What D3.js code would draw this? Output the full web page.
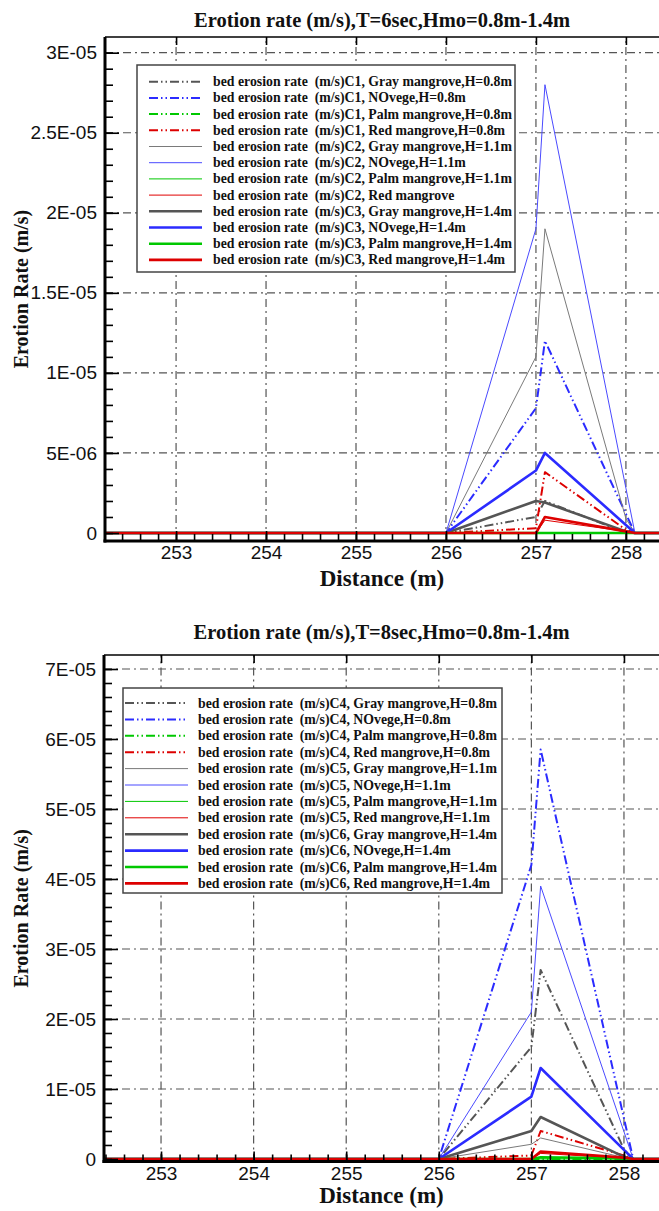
<!DOCTYPE html>
<html>
<head>
<meta charset="utf-8">
<script src="https://cdn.jsdelivr.net/npm/d3@7"></script>
<style>
body { margin: 0; background: #fff; }
text { white-space: pre; }
</style>
</head>
<body>
<svg id="chart" width="659" height="1211"></svg>
<script>
// x positions of the profile points (m)
var xPoints = [252, 256, 257, 257.1, 258, 258.1, 259];
var xTicks = [253, 254, 255, 256, 257, 258];

var vegColors = ['#555555', '#2b2bff', '#00c800', '#dd0000'];
var thinColors = ['#7a7a7a', '#4a4aff', '#00c800', '#e00000'];

// T = 6 sec panel
var namesT6 = [
    'bed erosion rate  (m/s)C1, Gray mangrove,H=0.8m',
    'bed erosion rate  (m/s)C1, NOvege,H=0.8m',
    'bed erosion rate  (m/s)C1, Palm mangrove,H=0.8m',
    'bed erosion rate  (m/s)C1, Red mangrove,H=0.8m',
    'bed erosion rate  (m/s)C2, Gray mangrove,H=1.1m',
    'bed erosion rate  (m/s)C2, NOvege,H=1.1m',
    'bed erosion rate  (m/s)C2, Palm mangrove,H=1.1m',
    'bed erosion rate  (m/s)C2, Red mangrove',
    'bed erosion rate  (m/s)C3, Gray mangrove,H=1.4m',
    'bed erosion rate  (m/s)C3, NOvege,H=1.4m',
    'bed erosion rate  (m/s)C3, Palm mangrove,H=1.4m',
    'bed erosion rate  (m/s)C3, Red mangrove,H=1.4m'
];
var valuesT6 = [
    [0, 0, 1.0e-6, 2.0e-6, 0, 0, 0],
    [0, 0, 7.8e-6, 1.2e-5, 1.2e-6, 0, 0],
    [0, 0, 0, 0, 0, 0, 0],
    [0, 0, 0.3e-6, 3.8e-6, 0.2e-6, 0, 0],
    [0, 0, 1.1e-5, 1.9e-5, 0.9e-6, 0, 0],
    [0, 0, 1.9e-5, 2.8e-5, 2.8e-6, 0, 0],
    [0, 0, 0, 0, 0, 0, 0],
    [0, 0, 0, 0.8e-6, 0.1e-6, 0, 0],
    [0, 0, 2.0e-6, 1.9e-6, 0.1e-6, 0, 0],
    [0, 0, 3.9e-6, 5.0e-6, 0.5e-6, 0, 0],
    [0, 0, 0, 0, 0, 0, 0],
    [0, 0, 0, 1.0e-6, 0.1e-6, 0, 0]
];
var yTicksT6 = [0, 5e-6, 1e-5, 1.5e-5, 2e-5, 2.5e-5, 3e-5];
var yLabelsT6 = ['0', '5E-06', '1E-05', '1.5E-05', '2E-05', '2.5E-05', '3E-05'];

// T = 8 sec panel
var namesT8 = [
    'bed erosion rate  (m/s)C4, Gray mangrove,H=0.8m',
    'bed erosion rate  (m/s)C4, NOvege,H=0.8m',
    'bed erosion rate  (m/s)C4, Palm mangrove,H=0.8m',
    'bed erosion rate  (m/s)C4, Red mangrove,H=0.8m',
    'bed erosion rate  (m/s)C5, Gray mangrove,H=1.1m',
    'bed erosion rate  (m/s)C5, NOvege,H=1.1m',
    'bed erosion rate  (m/s)C5, Palm mangrove,H=1.1m',
    'bed erosion rate  (m/s)C5, Red mangrove,H=1.1m',
    'bed erosion rate  (m/s)C6, Gray mangrove,H=1.4m',
    'bed erosion rate  (m/s)C6, NOvege,H=1.4m',
    'bed erosion rate  (m/s)C6, Palm mangrove,H=1.4m',
    'bed erosion rate  (m/s)C6, Red mangrove,H=1.4m'
];
var valuesT8 = [
    [0, 0, 1.6e-5, 2.7e-5, 1.4e-6, 0, 0],
    [0, 0, 4.2e-5, 5.85e-5, 5.8e-6, 0, 0],
    [0, 0, 0, 0, 0, 0, 0],
    [0, 0, 0.5e-6, 4.0e-6, 0.5e-6, 0, 0],
    [0, 0, 2.1e-6, 3.0e-6, 0.2e-6, 0, 0],
    [0, 0, 2.1e-5, 3.9e-5, 3.9e-6, 0, 0],
    [0, 0, 0, 0, 0, 0, 0],
    [0, 0, 0, 0.8e-6, 0.1e-6, 0, 0],
    [0, 0, 4.0e-6, 6.0e-6, 0.3e-6, 0, 0],
    [0, 0, 8.9e-6, 1.3e-5, 1.3e-6, 0, 0],
    [0, 0, 0, 0.25e-6, 0.1e-6, 0, 0],
    [0, 0, 0, 1.05e-6, 0.2e-6, 0, 0]
];
var yTicksT8 = [0, 1e-5, 2e-5, 3e-5, 4e-5, 5e-5, 6e-5, 7e-5];
var yLabelsT8 = ['0', '1E-05', '2E-05', '3E-05', '4E-05', '5E-05', '6E-05', '7E-05'];

var svg = d3.select('#chart');

function seriesStyle(i) {
    var group = Math.floor(i / 4), veg = i % 4;
    if (group === 0) return {color: vegColors[veg], width: 2, dash: '9,3,1.5,3,1.5,3'};
    if (group === 1) return {color: thinColors[veg], width: 1, dash: null};
    return {color: vegColors[veg], width: 2.6, dash: null};
}

function drawPanel(o) {
    var g = svg.append('g');
    var x = d3.scaleLinear().domain(o.xDomain).range([o.left, o.right]);
    var y = d3.scaleLinear().domain(o.yDomain).range([o.bottom, o.top]);

    var clipId = 'clip' + o.id;
    svg.append('clipPath').attr('id', clipId)
        .append('rect')
        .attr('x', o.left).attr('y', o.top)
        .attr('width', o.right - o.left).attr('height', o.bottom - o.top);

    // grid
    var grid = g.append('g')
        .attr('stroke', '#555')
        .attr('stroke-width', 1.2)
        .attr('stroke-dasharray', '8,4,2,4');
    grid.selectAll('line.gx').data(xTicks).enter().append('line')
        .attr('x1', function (d) { return x(d); })
        .attr('x2', function (d) { return x(d); })
        .attr('y1', o.bottom).attr('y2', o.top);
    grid.selectAll('line.gy').data(o.yTicks.slice(1)).enter().append('line')
        .attr('y1', function (d) { return y(d); })
        .attr('y2', function (d) { return y(d); })
        .attr('x1', o.left).attr('x2', o.right);

    // series
    var line = d3.line()
        .x(function (d) { return x(d[0]); })
        .y(function (d) { return y(d[1]); });

    var lines = g.append('g').attr('clip-path', 'url(#' + clipId + ')');
    o.values.forEach(function (vals, i) {
        var st = seriesStyle(i);
        lines.append('path')
            .datum(xPoints.map(function (xv, k) { return [xv, vals[k]]; }))
            .attr('fill', 'none')
            .attr('stroke', st.color)
            .attr('stroke-width', st.width)
            .attr('stroke-dasharray', st.dash)
            .attr('stroke-linejoin', 'round')
            .attr('d', line);
    });

    // minor ticks
    var xMinor = d3.range(252.4, 258.5, 0.2).filter(function (d) {
        return d > o.xDomain[0] && d < o.xDomain[1];
    });
    var yMinor = d3.range(0, o.yDomain[1], o.yMinorStep);

    var axX = g.append('g')
        .attr('transform', 'translate(0,' + o.bottom + ')')
        .call(d3.axisBottom(x).tickValues(xTicks).tickSize(-10).tickPadding(5)
            .tickFormat(d3.format('d')));
    var axXm = g.append('g')
        .attr('transform', 'translate(0,' + o.bottom + ')')
        .call(d3.axisBottom(x).tickValues(xMinor).tickSize(-7).tickFormat(''));
    var axY = g.append('g')
        .attr('transform', 'translate(' + o.left + ',0)')
        .call(d3.axisLeft(y).tickValues(o.yTicks).tickSize(-14).tickPadding(8)
            .tickFormat(function (d, i) { return o.yLabels[i]; }));
    var axYm = g.append('g')
        .attr('transform', 'translate(' + o.left + ',0)')
        .call(d3.axisLeft(y).tickValues(yMinor).tickSize(-8).tickFormat(''));
    var axTop = g.append('g')
        .attr('transform', 'translate(0,' + o.top + ')')
        .call(d3.axisTop(x).tickValues(xTicks).tickSize(-8).tickFormat(''));

    [axX, axXm, axY, axYm, axTop].forEach(function (a) {
        a.select('.domain').remove();
        a.selectAll('line').attr('stroke', '#000').attr('stroke-width', 1.6);
        a.selectAll('text')
            .attr('fill', '#111')
            .style('font-family', '"Liberation Sans", Arial, sans-serif')
            .style('font-size', '19px');
    });

    // frame
    g.append('line').attr('x1', o.left).attr('x2', o.right)
        .attr('y1', o.top).attr('y2', o.top)
        .attr('stroke', '#000').attr('stroke-width', 1.5);
    g.append('line').attr('x1', o.left - 1.5).attr('x2', o.right)
        .attr('y1', o.bottom).attr('y2', o.bottom)
        .attr('stroke', '#000').attr('stroke-width', 3);
    g.append('line').attr('x1', o.left).attr('x2', o.left)
        .attr('y1', o.top).attr('y2', o.bottom + 1.5)
        .attr('stroke', '#000').attr('stroke-width', 3);

    var serif = '"Liberation Serif", "Times New Roman", serif';
    var cx = (o.left + o.right) / 2 - 1;

    g.append('text')
        .attr('x', cx).attr('y', o.titleY)
        .attr('text-anchor', 'middle')
        .style('font-family', serif).style('font-weight', 'bold').style('font-size', '20.5px')
        .attr('fill', '#111')
        .text(o.title);

    g.append('text')
        .attr('x', cx).attr('y', o.xTitleY)
        .attr('text-anchor', 'middle')
        .style('font-family', serif).style('font-weight', 'bold').style('font-size', '23px')
        .attr('fill', '#111')
        .text('Distance (m)');

    g.append('text')
        .attr('transform', 'translate(' + o.yTitleX + ',' + ((o.top + o.bottom) / 2) + ') rotate(-90)')
        .attr('text-anchor', 'middle')
        .style('font-family', serif).style('font-weight', 'bold').style('font-size', '20px')
        .attr('fill', '#111')
        .text('Erotion Rate (m/s)');

    // legend
    var lg = g.append('g');
    lg.append('rect')
        .attr('x', o.legend.x).attr('y', o.legend.y)
        .attr('width', o.legend.w).attr('height', o.legend.h)
        .attr('fill', '#fff').attr('stroke', '#444').attr('stroke-width', 1.5);
    var rows = lg.selectAll('g.row').data(o.names).enter().append('g')
        .attr('transform', function (d, i) {
            return 'translate(0,' + (o.legend.row0 + i * o.legend.step) + ')';
        });
    rows.append('line')
        .attr('x1', o.legend.lx1).attr('x2', o.legend.lx2)
        .attr('y1', 0).attr('y2', 0)
        .each(function (d, i) {
            var st = seriesStyle(i);
            d3.select(this)
                .attr('stroke', st.color)
                .attr('stroke-width', st.width)
                .attr('stroke-dasharray', st.dash);
        });
    rows.append('text')
        .attr('x', o.legend.tx).attr('y', 0).attr('dy', '0.33em')
        .style('font-family', serif).style('font-weight', 'bold').style('font-size', '13.8px')
        .attr('fill', '#111')
        .text(function (d) { return d; });
}

drawPanel({
    id: 't6',
    left: 105, right: 661, top: 37, bottom: 541,
    xDomain: [252.21, 258.39],
    yDomain: [-0.5e-6, 3.098e-5],
    yTicks: yTicksT6, yLabels: yLabelsT6, yMinorStep: 1e-6,
    values: valuesT6, names: namesT6,
    title: 'Erotion rate (m/s),T=6sec,Hmo=0.8m-1.4m',
    titleY: 27, xTitleY: 586, yTitleX: 28,
    legend: {x: 137, y: 65, w: 378, h: 207, row0: 81.7, step: 16.2, lx1: 149, lx2: 202, tx: 213}
});

drawPanel({
    id: 't8',
    left: 104, right: 661, top: 655, bottom: 1161.5,
    xDomain: [252.384, 258.4],
    yDomain: [-0.36e-6, 7.2e-5],
    yTicks: yTicksT8, yLabels: yLabelsT8, yMinorStep: 2e-6,
    values: valuesT8, names: namesT8,
    title: 'Erotion rate (m/s),T=8sec,Hmo=0.8m-1.4m',
    titleY: 639, xTitleY: 1203, yTitleX: 28,
    legend: {x: 123, y: 688, w: 379, h: 205, row0: 703, step: 16.4, lx1: 125, lx2: 188, tx: 198}
});
</script>
</body>
</html>
